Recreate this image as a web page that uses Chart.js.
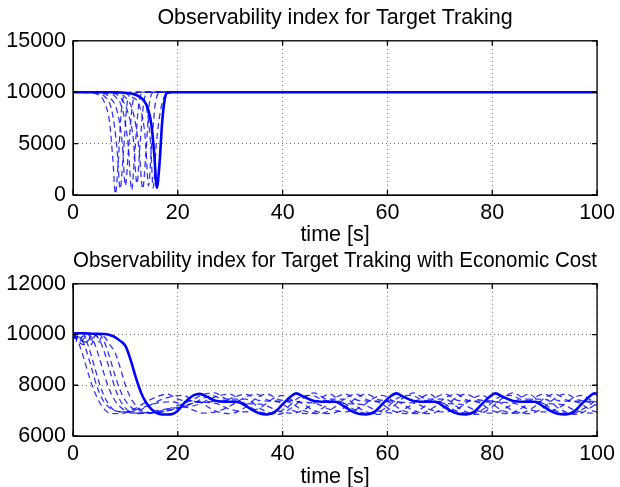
<!DOCTYPE html>
<html>
<head>
<meta charset="utf-8">
<script src="https://cdn.jsdelivr.net/npm/chart.js@4.4.1/dist/chart.umd.min.js"></script>
<style>
    html, body { margin: 0; padding: 0; background: #fff; overflow: hidden; }
    #wrap { position: relative; width: 620px; height: 487px; }
    canvas { position: absolute; left: 0; }
    #trackChart { top: 0; }
    #ecoChart { top: 248px; }
</style>
</head>
<body>
<div id="wrap">
    <canvas id="trackChart" width="620" height="248"></canvas>
    <canvas id="ecoChart" width="620" height="242"></canvas>
</div>
<script>
const xTicks = [0, 20, 40, 60, 80, 100];
const trackTicks = [0, 5000, 10000, 15000];
const ecoTicks = [6000, 8000, 10000, 12000];

// top plot: solid run and dashed runs, [time, index]
const trackSolid = [[0, 10000], [8, 10000], [10, 9950], [11.5, 9820], [12.5, 9620], [13.5, 9200], [14.3, 8400], [15, 6700], [15.5, 4000], [16, 700], [16.5, 3000], [17, 7000], [17.5, 9300], [18, 9950], [19, 10000], [100, 10000]];
const trackDash1 = [[0, 10000], [3, 9950], [5, 9700], [6, 9000], [7, 7000], [7.6, 3500], [8.1, 100], [8.6, 3000], [9.2, 8000], [9.8, 9800], [11, 10000], [100, 10000]];
const trackDash2 = [[0, 10000], [4, 9950], [6, 9600], [7.5, 8000], [8.4, 4500], [9.0, 600], [9.6, 4000], [10.3, 8800], [11, 9900], [12, 10000], [100, 10000]];
const trackDash3 = [[0, 10000], [5, 9950], [7, 9500], [8.5, 8000], [9.4, 5000], [10.0, 900], [10.6, 4500], [11.4, 9000], [12.5, 10000], [100, 10000]];
const trackDash4 = [[0, 10000], [6, 9950], [8, 9600], [9.5, 8200], [10.5, 5000], [11.2, 500], [11.8, 4200], [12.6, 9000], [13.5, 10000], [100, 10000]];
const trackDash5 = [[0, 10000], [7, 9950], [9, 9500], [10.5, 8000], [11.5, 5500], [12.2, 1100], [12.8, 5000], [13.6, 9300], [14.5, 10000], [100, 10000]];
const trackDash6 = [[0, 10000], [8, 9950], [10, 9500], [11.5, 8000], [12.6, 4500], [13.3, 600], [13.9, 4000], [14.6, 9000], [15.5, 10000], [100, 10000]];
const trackDash7 = [[0, 10000], [9, 9950], [11, 9600], [12.8, 8500], [13.8, 5500], [14.4, 900], [15.0, 4800], [15.8, 9200], [16.8, 10000], [100, 10000]];
const trackDash8 = [[0, 10000], [10, 9950], [12, 9700], [14, 8500], [14.8, 5000], [15.3, 700], [15.9, 5000], [17.2, 9300], [18.6, 10000], [100, 10000]];

// bottom plot: economic cost runs
const ecoSolid = [[0, 10050], [2, 10050], [4, 10030], [6, 10020], [7, 9980], [8, 9900], [9, 9750], [10, 9550], [11, 9000], [12, 8300], [13, 7700], [14, 7300], [15, 7050], [16, 6900], [17, 6850], [18, 6850], [19, 6870], [20, 7000], [21, 7250], [22, 7450], [23, 7600], [24.2, 7660], [25.5, 7550], [27, 7400], [29, 7350], [31, 7350], [32.5, 7250], [34, 7050], [35.5, 6900], [37, 6850], [38.5, 6950], [40, 7250], [41.5, 7550], [42.6, 7680], [44, 7550], [46, 7380], [48, 7350], [50, 7350], [51.5, 7200], [53, 7000], [54.5, 6880], [56, 6850], [57.5, 6950], [59, 7250], [60.5, 7550], [61.7, 7680], [63, 7550], [65, 7380], [67, 7350], [69, 7350], [70.5, 7200], [72, 7000], [73.5, 6880], [75, 6850], [76.5, 6950], [78, 7250], [79.5, 7550], [80.6, 7680], [82, 7550], [84, 7380], [86, 7350], [88, 7350], [89.5, 7200], [91, 7000], [92.5, 6880], [94, 6850], [95.5, 6950], [97, 7250], [98.5, 7550], [99.5, 7680], [100, 7650]];
const ecoDash1 = [[0, 9950], [1, 9700], [2, 9100], [3, 8400], [4, 7800], [5, 7350], [6, 7050], [7, 6900], [9, 6880], [12, 7100], [14, 7350], [16, 7550], [18, 7650], [20.5, 7420], [24, 7350], [27, 7000], [30, 6880], [33, 7150], [35, 7500], [37, 7650], [39.5, 7420], [43, 7350], [46, 7000], [49, 6880], [52, 7150], [54, 7500], [56, 7650], [58.5, 7420], [62, 7350], [65, 7000], [68, 6880], [71, 7150], [73, 7500], [75, 7650], [77.5, 7420], [81, 7350], [84, 7000], [87, 6880], [90, 7150], [92, 7500], [94, 7650], [96.5, 7420], [100, 7350]];
const ecoDash2 = [[0, 10000], [1, 9800], [2, 9950], [3, 9500], [4, 8800], [5, 8100], [6, 7550], [7, 7200], [8, 7000], [10, 6950], [13, 7050], [15, 7250], [17, 7450], [19, 7560], [21, 7600], [23.5, 7350], [27, 7300], [30, 7050], [33, 6950], [36, 7150], [38, 7450], [40, 7600], [42.5, 7350], [46, 7300], [49, 7050], [52, 6950], [55, 7150], [57, 7450], [59, 7600], [61.5, 7350], [65, 7300], [68, 7050], [71, 6950], [74, 7150], [76, 7450], [78, 7600], [80.5, 7350], [84, 7300], [87, 7050], [90, 6950], [93, 7150], [95, 7450], [97, 7600], [99.5, 7350], [100, 7340]];
const ecoDash3 = [[0, 10050], [1.5, 9750], [3, 10000], [4, 9700], [5, 9100], [6, 8400], [7, 7800], [8, 7400], [9, 7150], [10, 7000], [12, 6880], [14, 6900], [17, 7000], [20, 7200], [23, 7450], [25, 7650], [27, 7700], [29.5, 7450], [33, 7450], [36, 7050], [39, 6850], [42, 7150], [44, 7500], [46, 7700], [48.5, 7450], [52, 7450], [55, 7050], [58, 6850], [61, 7150], [63, 7500], [65, 7700], [67.5, 7450], [71, 7450], [74, 7050], [77, 6850], [80, 7150], [82, 7500], [84, 7700], [86.5, 7450], [90, 7450], [93, 7050], [96, 6850], [99, 7150], [100, 7300]];
const ecoDash4 = [[0, 10000], [2, 9600], [4, 10000], [5, 9800], [6, 9300], [7, 8600], [8, 7900], [9, 7400], [10, 7100], [11, 6950], [13, 6900], [16, 7000], [19, 7100], [22, 7150], [24, 7250], [26, 7450], [28, 7600], [30, 7650], [32.5, 7300], [36, 7250], [39, 7000], [42, 6900], [45, 7150], [47, 7450], [49, 7650], [51.5, 7300], [55, 7250], [58, 7000], [61, 6900], [64, 7150], [66, 7450], [68, 7650], [70.5, 7300], [74, 7250], [77, 7000], [80, 6900], [83, 7150], [85, 7450], [87, 7650], [89.5, 7300], [93, 7250], [96, 7000], [99, 6900], [100, 6950]];
const ecoDash5 = [[0, 10000], [2.5, 9700], [5, 10000], [6, 9700], [7, 9100], [8, 8400], [9, 7800], [10, 7400], [11, 7150], [12, 7000], [14, 6900], [17, 6950], [20, 7100], [23, 7300], [26, 7350], [29, 7400], [31, 7550], [33, 7650], [35.5, 7400], [39, 7350], [42, 7000], [45, 6880], [48, 7150], [50, 7500], [52, 7650], [54.5, 7400], [58, 7350], [61, 7000], [64, 6880], [67, 7150], [69, 7500], [71, 7650], [73.5, 7400], [77, 7350], [80, 7000], [83, 6880], [86, 7150], [88, 7500], [90, 7650], [92.5, 7400], [96, 7350], [99, 7000], [100, 6950]];
const ecoDash6 = [[0, 9950], [1.5, 9850], [2.5, 9400], [3.5, 8700], [4.5, 8000], [5.5, 7500], [6.5, 7200], [8, 7000], [10, 6950], [13, 7100], [16, 7300], [19, 7350], [22, 7100], [25, 6900], [28, 7000], [31, 7300], [33, 7550], [35, 7650], [37.5, 7400], [41, 7350], [44, 7000], [47, 6880], [50, 7150], [52, 7500], [54, 7650], [56.5, 7400], [60, 7350], [63, 7000], [66, 6880], [69, 7150], [71, 7500], [73, 7650], [75.5, 7400], [79, 7350], [82, 7000], [85, 6880], [88, 7150], [90, 7500], [92, 7650], [94.5, 7400], [98, 7350], [100, 7200]];
const ecoDash7 = [[0, 10050], [0.5, 9700], [1, 10000], [1.5, 9800], [2, 10050], [2.5, 9850], [3, 10000], [3.5, 9600], [4, 9900], [4.5, 10000], [5, 9700], [5.5, 9950], [6, 9900], [7, 9600], [8, 9300], [9, 8700], [10, 8000], [11, 7500], [12, 7200], [13, 7000], [15, 6900], [17, 6950], [20, 7100], [23, 7300], [25, 7500], [26.5, 7600], [29, 7400], [32, 7350], [35, 7000], [38, 6880], [41, 7150], [43, 7500], [45.5, 7600], [48, 7400], [51, 7350], [54, 7000], [57, 6880], [60, 7150], [62, 7500], [64.5, 7600], [67, 7400], [70, 7350], [73, 7000], [76, 6880], [79, 7150], [81, 7500], [83.5, 7600], [86, 7400], [89, 7350], [92, 7000], [95, 6880], [98, 7150], [100, 7450]];

const blue = '#0000FF';
const fontFamily = "'Liberation Sans', Arial, Helvetica, sans-serif";

// MATLAB style box with inward ticks
const boxFrame = {
    id: 'boxFrame',
    afterDatasetsDraw(chart) {
        const { ctx, chartArea: a, scales } = chart;
        ctx.save();
        ctx.strokeStyle = '#000';
        ctx.lineWidth = 1.3;
        ctx.setLineDash([]);
        ctx.strokeRect(a.left, a.top, a.right - a.left, a.bottom - a.top);
        ctx.beginPath();
        scales.x.ticks.forEach((t) => {
            const px = scales.x.getPixelForValue(t.value);
            ctx.moveTo(px, a.bottom); ctx.lineTo(px, a.bottom - 5);
            ctx.moveTo(px, a.top); ctx.lineTo(px, a.top + 5);
        });
        scales.y.ticks.forEach((t) => {
            const py = scales.y.getPixelForValue(t.value);
            ctx.moveTo(a.left, py); ctx.lineTo(a.left + 5, py);
            ctx.moveTo(a.right, py); ctx.lineTo(a.right - 5, py);
        });
        ctx.stroke();
        ctx.restore();
    },
};

function solidSet(data) {
    return {
        data,
        borderColor: blue,
        borderWidth: 2.6,
        pointRadius: 0,
        fill: false,
        cubicInterpolationMode: 'monotone',
    };
}

function dashSet(data) {
    return {
        data,
        borderColor: 'rgba(0, 0, 255, 0.8)',
        borderWidth: 1.3,
        borderDash: [6, 4],
        pointRadius: 0,
        fill: false,
        cubicInterpolationMode: 'monotone',
    };
}

function renderPanel(id, cfg) {
    const canvas = document.getElementById(id);
    const tickFont = { family: fontFamily, size: 21.5 };

    // eslint-disable-next-line no-new
    new Chart(canvas, {
        type: 'line',
        data: { datasets: cfg.datasets },
        plugins: [boxFrame],
        options: {
            responsive: false,
            animation: false,
            layout: { padding: { left: 0, right: 19, top: 0, bottom: 0 } },
            plugins: {
                legend: { display: false },
                tooltip: { enabled: false },
                title: {
                    display: true,
                    fullSize: false,
                    text: cfg.title,
                    color: '#000',
                    font: { family: fontFamily, size: 21.5, weight: 'normal' },
                    padding: cfg.titlePadding,
                },
            },
            scales: {
                x: {
                    type: 'linear',
                    min: 0,
                    max: 100,
                    afterBuildTicks: (scale) => { scale.ticks = xTicks.map((v) => ({ value: v })); },
                    afterFit: (scale) => { scale.height = cfg.xHeight; },
                    ticks: { color: '#000', font: tickFont, padding: 5, maxRotation: 0 },
                    grid: { color: 'rgba(0, 0, 0, 0.55)', lineWidth: 1, drawTicks: false },
                    border: { color: '#000', dash: [1, 3] },
                    title: {
                        display: true,
                        text: 'time [s]',
                        color: '#000',
                        font: tickFont,
                        padding: { top: 0, bottom: 0 },
                    },
                },
                y: {
                    type: 'linear',
                    min: cfg.yTicks[0],
                    max: cfg.yTicks[cfg.yTicks.length - 1],
                    afterBuildTicks: (scale) => { scale.ticks = cfg.yTicks.map((v) => ({ value: v })); },
                    afterFit: (scale) => { scale.width = 73; },
                    ticks: { color: '#000', font: tickFont, padding: 7, callback: (v) => String(v) },
                    grid: { color: 'rgba(0, 0, 0, 0.55)', lineWidth: 1, drawTicks: false },
                    border: { color: '#000', dash: [1, 3] },
                },
            },
        },
    });
}

renderPanel('trackChart', {
    title: 'Observability index for Target Traking',
    titlePadding: { top: 5, bottom: 10 },
    xHeight: 53,
    yTicks: trackTicks,
    datasets: [
        solidSet(trackSolid),
        dashSet(trackDash1), dashSet(trackDash2), dashSet(trackDash3), dashSet(trackDash4),
        dashSet(trackDash5), dashSet(trackDash6), dashSet(trackDash7), dashSet(trackDash8),
    ],
});

renderPanel('ecoChart', {
    title: 'Observability index for Target Traking with Economic Cost',
    titlePadding: { top: 0, bottom: 10 },
    xHeight: 54,
    yTicks: ecoTicks,
    datasets: [
        solidSet(ecoSolid),
        dashSet(ecoDash1), dashSet(ecoDash2), dashSet(ecoDash3), dashSet(ecoDash4),
        dashSet(ecoDash5), dashSet(ecoDash6), dashSet(ecoDash7),
    ],
});
</script>
</body>
</html>
